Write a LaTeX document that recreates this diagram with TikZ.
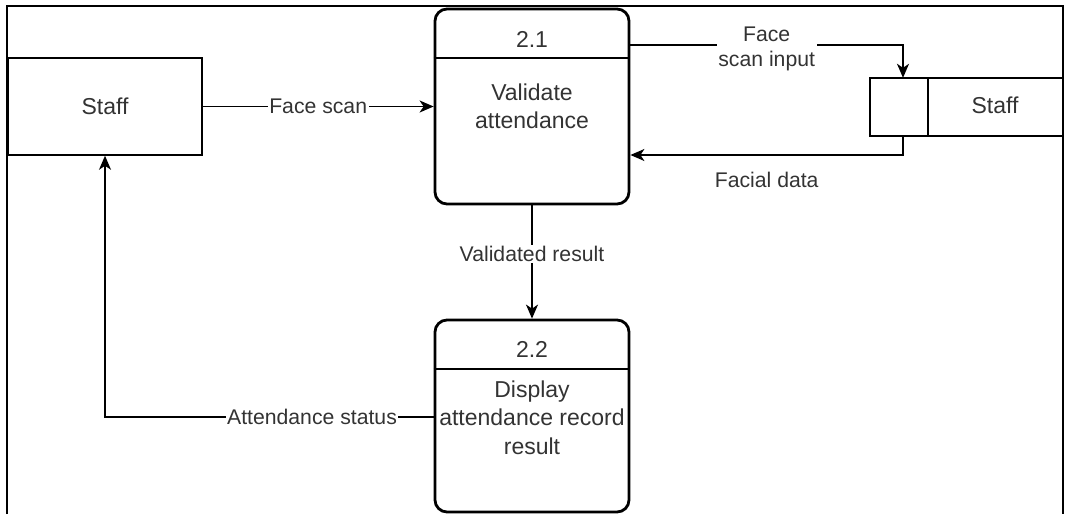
\documentclass[tikz,border=0pt]{standalone}
\usepackage{fontspec}
\setmainfont{Liberation Sans}
\usetikzlibrary{arrows.meta,calc}
\definecolor{ink}{HTML}{333333}
\begin{document}
\begin{tikzpicture}[x=1pt,y=-1pt,
  every node/.style={text=ink, inner sep=0pt},
  entity/.style={draw=black, line width=1.5pt, minimum width=194pt, minimum height=97pt,
    font=\fontsize{23}{28}\selectfont},
  proc/.style={draw=black, line width=2.8pt, rounded corners=12pt, minimum width=194pt},
  divider/.style={draw=black, line width=1.5pt},
  flow/.style={draw=black, line width=1.5pt, -{Stealth[length=14pt,width=12pt,inset=4pt]}},
  lbl/.style={fill=white, font=\fontsize{21.2}{25}\selectfont, align=center, inner sep=1.5pt},
  lblfree/.style={font=\fontsize{21.2}{25}\selectfont, align=center},
  ptext/.style={font=\fontsize{23}{28.5}\selectfont, align=center},
]
\useasboundingbox (0,0) rectangle (1067,514);

% outer frame
\draw[line width=1.5pt] (7,514) -- (7,6) -- (1063,6) -- (1063,514);

% helper rows and columns
\coordinate (row1) at (0,58);
\coordinate (row2) at (0,369);
\coordinate (fsi) at (0,45);
\coordinate (fd) at (0,155);
\coordinate (as) at (0,417);
\coordinate (sx) at (903,0);
\coordinate (sd) at (928,0);

% external entity
\node[entity] (staffL) at (105,106.5) {Staff};

% process 2.1
\node[proc, minimum height=195pt] (p1) at (532,106.5) {};
\draw[divider] (p1.west |- row1) -- (p1.east |- row1);
\node[ptext, anchor=base] (p1id) at (532,47) {2.1};
\node[ptext, anchor=north] (p1txt) at (532,83.4) {Validate\\attendance};

% process 2.2
\node[proc, minimum height=192pt] (p2) at (532,416) {};
\draw[divider] (p2.west |- row2) -- (p2.east |- row2);
\node[ptext, anchor=base] (p2id) at (532,357) {2.2};
\node[ptext, anchor=north] (p2txt) at (532,380.4) {Display\\attendance record\\result};

% data store (open on the right)
\node[minimum width=192pt, minimum height=58pt] (store) at (966,107) {};
\draw[divider] (store.north east) -- (store.north west) -- (store.south west) -- (store.south east);
\draw[divider] (store.north -| sd) -- (store.south -| sd);
\node[ptext] (storetxt) at (995,105.5) {Staff};

% data flows
\draw[flow] (staffL) -- node[lbl] {Face scan} (p1);
\draw[flow] (p1.east |- fsi) -| node[lbl, pos=.25, yshift=-4pt] {Face\\scan input} (store.north -| sx);
\draw[flow] (store.south -| sx) |- node[lblfree, pos=.75, yshift=-25pt] {Facial data} (p1.east |- fd);
\draw[flow] (p1) -- node[lbl, pos=.43] {Validated result} (p2);
\draw[flow] (p2.west |- as) -| node[lbl, pos=.185] {Attendance status} (staffL.south);
\end{tikzpicture}
\end{document}
